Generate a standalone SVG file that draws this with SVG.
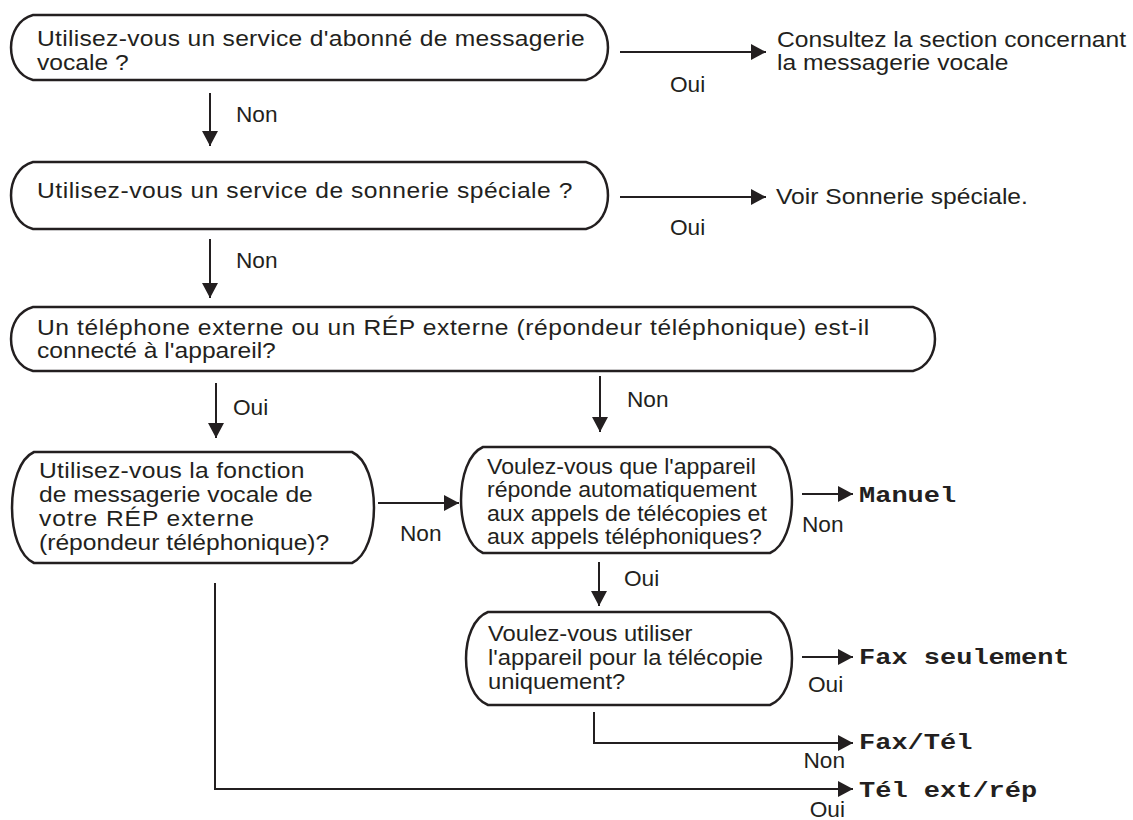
<svg xmlns="http://www.w3.org/2000/svg" width="1133" height="820" viewBox="0 0 1133 820">
<defs>
<style>
.node{fill:#fff;stroke:#231f20;stroke-width:2.5}
.c{fill:none;stroke:#231f20;stroke-width:2}
.t{font-family:"Liberation Sans",Arial,sans-serif;font-size:22px;fill:#231f20}
.m{font-family:"Liberation Mono","Courier New",monospace;font-size:22.5px;font-weight:bold;fill:#231f20}
</style>
<marker id="ah" markerUnits="userSpaceOnUse" markerWidth="16" markerHeight="16" refX="15" refY="8" orient="auto">
<path d="M0,0 L15,8 L0,16 Z" fill="#231f20"/>
</marker>
</defs>
<rect width="1133" height="820" fill="#fff"/>

<g id="n1">
<path class="node" d="M33,15 H586 C615.3,22.8 615.3,72.2 586,80 H33 C3.7,72.2 3.7,22.8 33,15 Z"/>
<text class="t" transform="translate(37 46) scale(1.12 1)" textLength="489">Utilisez-vous un service d'abonné de messagerie</text>
<text class="t" transform="translate(37 70) scale(1.12 1)">vocale ?</text>
</g>
<g id="r1">
<text class="t" transform="translate(777 47) scale(1.12 1)"><tspan x="0" y="0">Consultez la section concernant</tspan><tspan x="0" y="23">la messagerie vocale</tspan></text>
</g>
<g id="n2">
<path class="node" d="M33,162 H586 C615.3,170 615.3,221 586,229 H33 C3.7,221 3.7,170 33,162 Z"/>
<text class="t" transform="translate(37 198) scale(1.12 1)" textLength="478">Utilisez-vous un service de sonnerie spéciale ?</text>
</g>
<g id="r2">
<text class="t" transform="translate(776 204) scale(1.12 1)">Voir Sonnerie spéciale.</text>
</g>
<g id="n3">
<path class="node" d="M33,307 H913 C942.3,314.7 942.3,363.3 913,371 H33 C3.7,363.3 3.7,314.7 33,307 Z"/>
<text class="t" transform="translate(37 335) scale(1.12 1)" textLength="743">Un téléphone externe ou un RÉP externe (répondeur téléphonique) est-il</text>
<text class="t" transform="translate(37 358) scale(1.12 1)">connecté à l'appareil?</text>
</g>
<g id="n4">
<path class="node" d="M34,452 H352 C381.3,465.3 381.3,549.7 352,563 H34 C4.7,549.7 4.7,465.3 34,452 Z"/>
<text class="t" transform="translate(39 478) scale(1.12 1)" textLength="237">Utilisez-vous la fonction</text>
<text class="t" transform="translate(39 502) scale(1.12 1)">de messagerie vocale de</text>
<text class="t" transform="translate(39 526) scale(1.12 1)" textLength="192">votre RÉP externe</text>
<text class="t" transform="translate(39 550) scale(1.12 1)">(répondeur téléphonique)?</text>
</g>
<g id="n5">
<path class="node" d="M483,447 H770 C799.3,459.7 799.3,540.3 770,553 H483 C453.7,540.3 453.7,459.7 483,447 Z"/>
<text class="t" transform="translate(487 474) scale(1.05 1)"><tspan x="0" y="0">Voulez-vous que l'appareil</tspan><tspan x="0" y="23.5">réponde automatiquement</tspan><tspan x="0" y="47">aux appels de télécopies et</tspan><tspan x="0" y="70.5">aux appels téléphoniques?</tspan></text>
</g>
<g id="n6">
<path class="node" d="M488,612 H770 C799.3,623.2 799.3,693.8 770,705 H488 C458.7,693.8 458.7,623.2 488,612 Z"/>
<text class="t" transform="translate(488 641) scale(1.08 1)"><tspan x="0" y="0">Voulez-vous utiliser</tspan><tspan x="0" y="24">l'appareil pour la télécopie</tspan><tspan x="0" y="48">uniquement?</tspan></text>
</g>
<g id="o1"><text class="m" transform="translate(859 502) scale(1.2 1)">Manuel</text></g>
<g id="o2"><text class="m" transform="translate(859 664) scale(1.2 1)">Fax seulement</text></g>
<g id="o3"><text class="m" transform="translate(859 749) scale(1.2 1)">Fax/Tél</text></g>
<g id="o4"><text class="m" transform="translate(859 797) scale(1.2 1)">Tél ext/rép</text></g>

<g id="connectors">
<path class="c" marker-end="url(#ah)" d="M620,52 H766"/>
<path class="c" marker-end="url(#ah)" d="M210,93 V146"/>
<path class="c" marker-end="url(#ah)" d="M620,197 H766"/>
<path class="c" marker-end="url(#ah)" d="M210,239 V298"/>
<path class="c" marker-end="url(#ah)" d="M216,383 V438"/>
<path class="c" marker-end="url(#ah)" d="M600,376 V432"/>
<path class="c" marker-end="url(#ah)" d="M378,503 H459"/>
<path class="c" marker-end="url(#ah)" d="M802,494 H853"/>
<path class="c" marker-end="url(#ah)" d="M599,562 V606"/>
<path class="c" marker-end="url(#ah)" d="M802,657 H853"/>
<path class="c" marker-end="url(#ah)" d="M594,712 V743 H853"/>
<path class="c" marker-end="url(#ah)" d="M215,583 V789 H853"/>
<g class="t">
<text transform="translate(670 92) scale(1.03 1)">Oui</text>
<text transform="translate(236 122) scale(1.03 1)">Non</text>
<text transform="translate(670 235) scale(1.03 1)">Oui</text>
<text transform="translate(236 268) scale(1.03 1)">Non</text>
<text transform="translate(233 415) scale(1.03 1)">Oui</text>
<text transform="translate(627 407) scale(1.03 1)">Non</text>
<text transform="translate(400 541) scale(1.03 1)">Non</text>
<text transform="translate(802 532) scale(1.03 1)">Non</text>
<text transform="translate(624 586) scale(1.03 1)">Oui</text>
<text transform="translate(808 692) scale(1.03 1)">Oui</text>
<text transform="translate(845 768) scale(1.03 1)" text-anchor="end">Non</text>
<text transform="translate(845 817) scale(1.03 1)" text-anchor="end">Oui</text>
</g>
</g>
</svg>
